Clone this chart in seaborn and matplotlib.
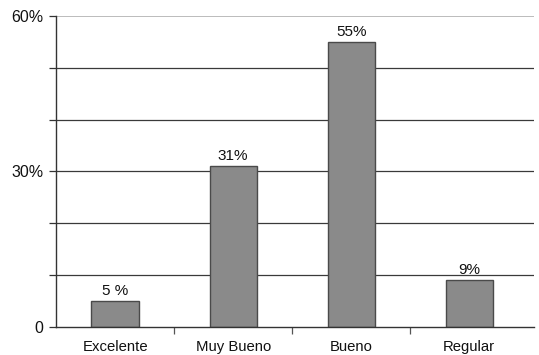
import numpy as np
import pandas as pd
import seaborn as sns
import matplotlib
matplotlib.use('Agg')
import matplotlib.pyplot as plt
from matplotlib.ticker import MultipleLocator

# data
categories = ['Excelente', 'Muy Bueno', 'Bueno', 'Regular']
values = [5, 31, 55, 9]
bar_labels = ['5 %', '31%', '55%', '9%']
ytick_vals = [0, 30, 60]
ytick_labels = ['0', '30%', '60%']

df = pd.DataFrame({'cat': categories, 'val': values})

sns.set_style('white')
plt.rcParams['font.family'] = ['Liberation Sans', 'DejaVu Sans']

fig = plt.figure(figsize=(5.39, 3.55), dpi=100)
ax = fig.add_axes([0.104, 0.079, 0.887, 0.876])

# gridlines every 10 %
for y in range(10, 60, 10):
    ax.axhline(y, color='#3a3a3a', lw=0.9, zorder=0)
ax.axhline(60, color='#b0b0b0', lw=1.2, zorder=0)

sns.barplot(data=df, x='cat', y='val', ax=ax, color='#8a8a8a', width=0.4,
            edgecolor='#4a4a4a', linewidth=1.0, saturation=1, zorder=2)

for i, (v, lab) in enumerate(zip(values, bar_labels)):
    ax.text(i, v + 0.6, lab, ha='center', va='bottom', fontsize=11,
            color='#111111')

ax.set_ylim(0, 60)
ax.set_xlim(-0.5, 3.55)
ax.set_yticks(ytick_vals)
ax.set_yticklabels(ytick_labels, fontsize=11.5, color='#111111')
ax.yaxis.set_minor_locator(MultipleLocator(10))
ax.tick_params(axis='y', which='both', left=True, length=5, width=0.9,
               color='#333333', pad=4)
ax.set_xticks([0, 1, 2, 3])
ax.set_xticklabels(categories, fontsize=10.7, color='#111111')
ax.set_xticks([0.5, 1.5, 2.5], minor=True)
ax.tick_params(axis='x', which='major', bottom=False, pad=6)
ax.tick_params(axis='x', which='minor', bottom=True, length=5, width=0.9,
               color='#555555')
ax.set_xlabel('')
ax.set_ylabel('')

for s in ['top', 'right']:
    ax.spines[s].set_visible(False)
for s in ['left', 'bottom']:
    ax.spines[s].set_color('#333333')
    ax.spines[s].set_linewidth(1.0)
ax.spines['left'].set_zorder(3)

fig.savefig('out.png', dpi=100)
